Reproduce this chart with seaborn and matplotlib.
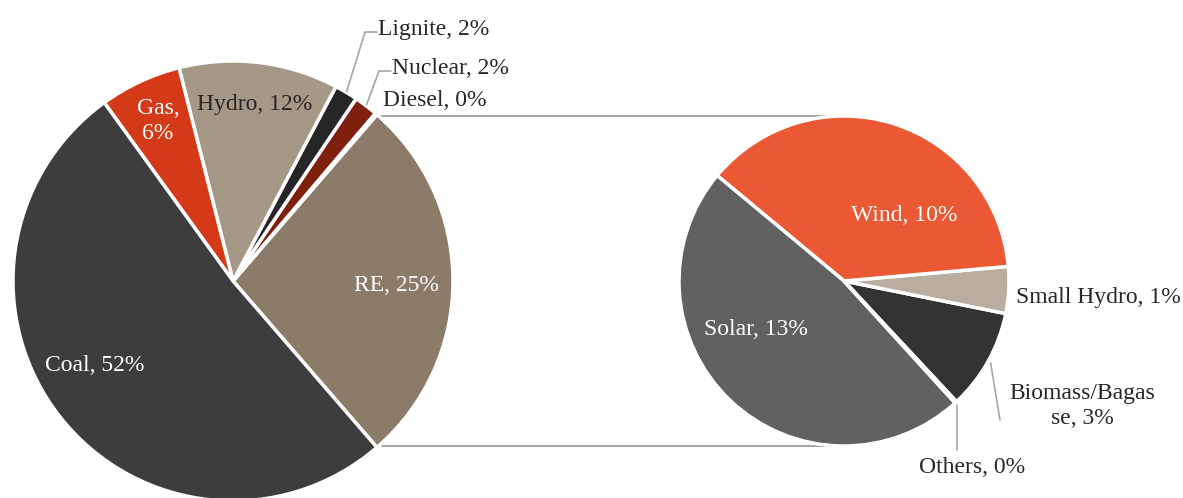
"""Pie-of-pie chart: installed capacity mix with RE breakdown."""

import numpy as np
import matplotlib
matplotlib.use("Agg")
import matplotlib.pyplot as plt
import seaborn as sns

# main pie, listed counter-clockwise starting at the RE slice
main_names = ["RE", "Diesel", "Nuclear", "Lignite", "Hydro", "Gas", "Coal"]
main_values = [27.3, 0.15, 1.75, 1.7, 11.7, 6.0, 51.4]
main_pct = [25, 0, 2, 2, 12, 6, 52]

# secondary pie (RE breakdown), counter-clockwise from Biomass
re_names = ["Biomass/Bagas\nse", "Small Hydro", "Wind", "Solar", "Others"]
re_values = [2.7, 1.25, 10.25, 13.05, 0.05]
re_pct = [3, 1, 10, 13, 0]

main_colors = ["#8b7b68", "#a0a0a0", "#7f1f0d", "#262626", "#a69886", "#d43a17", "#3d3d3d"]
re_colors = ["#333333", "#b8ad9e", "#ea5934", "#616161", "#e9a08a"]

W, H = 1183, 498
sns.set_style("white")
plt.rcParams["font.family"] = ["Liberation Serif", "DejaVu Serif"]
FS = 17
DARK = "#262626"
LINE = "#a6a6a6"


def px(x, y):
    return x, H - y


fig = plt.figure(figsize=(W / 100, H / 100), dpi=100)
ax = fig.add_axes([0, 0, 1, 1])

c1, r1 = px(233, 281), 220
c2, r2 = px(844, 281), 165

w1, _ = ax.pie(main_values, colors=main_colors, center=c1, radius=r1,
               startangle=-main_values[0] * 3.6 / 2, counterclock=True,
               wedgeprops=dict(edgecolor="white", linewidth=2.5))
re_start = -47.0
w2, _ = ax.pie(re_values, colors=re_colors, center=c2, radius=r2,
               startangle=re_start, counterclock=True,
               explode=[0.02, 0, 0, 0, 0],
               wedgeprops=dict(edgecolor="white", linewidth=2.5))


def mid(w):
    return np.deg2rad((w.theta1 + w.theta2) / 2)


def polar(c, r, ang):
    return c[0] + r * np.cos(ang), c[1] + r * np.sin(ang)


# connector lines from RE slice to secondary pie
re_w = w1[0]
for th, ytop in [(re_w.theta2, c2[1] + r2), (re_w.theta1, c2[1] - r2)]:
    x0, y0 = polar(c1, r1, np.deg2rad(th))
    ax.plot([x0 + 5, c2[0] - 15], [ytop, ytop], color=LINE, lw=1.5, zorder=0)

# labels inside slices: (radius fraction, angle nudge in degrees, colour)
inside_main = {"RE": (0.745, -1.7, "white"), "Hydro": (0.81, 0, DARK),
               "Gas": (0.805, 0, "white"), "Coal": (0.737, -6.8, "white")}
for w, name, pct in zip(w1, main_names, main_pct):
    if name in inside_main:
        frac, dth, col = inside_main[name]
        x, y = polar(c1, r1 * frac, mid(w) + np.deg2rad(dth))
        text = f"{name},\n{pct}%" if name == "Gas" else f"{name}, {pct}%"
        ax.text(x, y, text, ha="center", va="center", color=col, fontsize=FS,
                linespacing=1.25)

inside_re = {"Wind": (0.54, -24.9), "Solar": (0.61, -17.2)}
for w, name, pct in zip(w2, re_names, re_pct):
    if name in inside_re:
        frac, dth = inside_re[name]
        x, y = polar(c2, r2 * frac, mid(w) + np.deg2rad(dth))
        ax.text(x, y, f"{name}, {pct}%", ha="center", va="center",
                color="white", fontsize=FS)

# outside labels with elbow leaders on the main pie
elbow = {"Lignite": px(378, 29), "Nuclear": px(392, 68)}
for w, name, pct in zip(w1, main_names, main_pct):
    if name in elbow:
        tx, ty = elbow[name]
        x0, y0 = polar(c1, r1 + 1, mid(w))
        ax.plot([x0, tx - 13, tx - 1], [y0, ty - 3, ty - 3], color=LINE, lw=1.2)
        ax.text(tx, ty, f"{name}, {pct}%", ha="left", va="center",
                color=DARK, fontsize=FS)
ax.text(*px(383, 100), f"{main_names[1]}, {main_pct[1]}%", ha="left",
        va="center", color=DARK, fontsize=FS)

# outside labels on the secondary pie
ax.text(*px(1016, 297), f"{re_names[1]}, {re_pct[1]}%", ha="left",
        va="center", color=DARK, fontsize=FS)

x0, y0 = polar(c2, r2 + 3, mid(w2[0]))
x1, y1 = px(1000, 420)
ax.plot([x0, x1], [y0, y1], color=LINE, lw=1.2)
ax.text(*px(1082, 406), f"{re_names[0]}, {re_pct[0]}%", ha="center",
        va="center", color=DARK, fontsize=FS, linespacing=1.25)

x0, y0 = polar(c2, r2 + 3, np.deg2rad(w2[4].theta1))
ax.plot([x0, x0], [y0, H - 450], color=LINE, lw=1.2)
ax.text(*px(972, 467), f"{re_names[4]}, {re_pct[4]}%", ha="center",
        va="center", color=DARK, fontsize=FS)

ax.set_xlim(0, W)
ax.set_ylim(0, H)
ax.set_aspect("equal")
ax.axis("off")

fig.savefig("out.png", dpi=100)
